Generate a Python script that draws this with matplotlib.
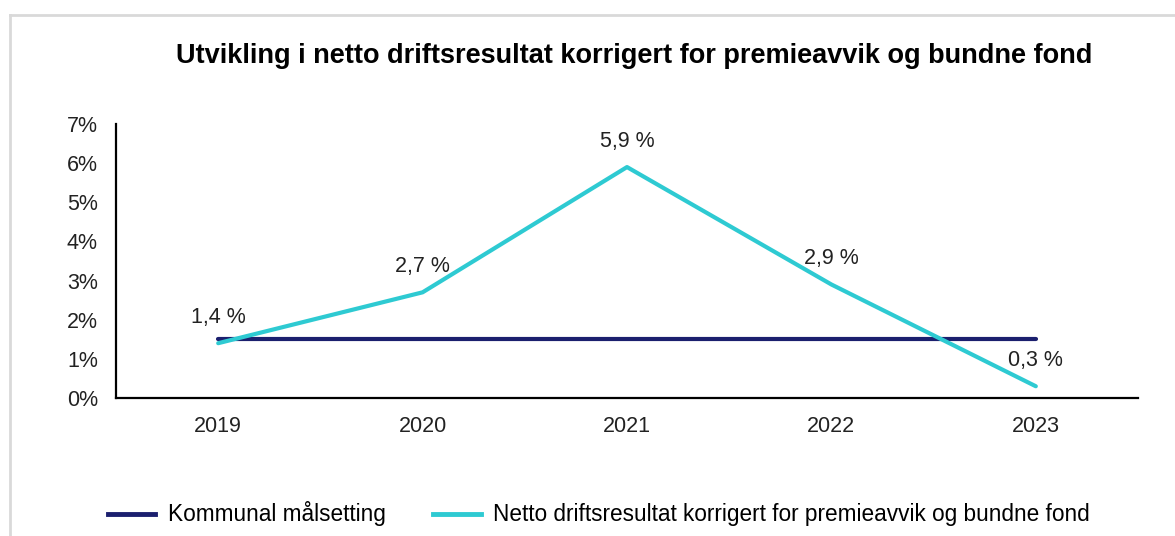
import matplotlib
matplotlib.use("Agg")
from matplotlib import pyplot as plt
from matplotlib.lines import Line2D

plt.rcParams['font.family'] = ['Liberation Sans', 'DejaVu Sans']

# data
years = ["2019", "2020", "2021", "2022", "2023"]
netto = [1.4, 2.7, 5.9, 2.9, 0.3]
maal = [1.5, 1.5, 1.5, 1.5, 1.5]
labels = ["1,4 %", "2,7 %", "5,9 %", "2,9 %", "0,3 %"]
yticks = [0, 1, 2, 3, 4, 5, 6, 7]

navy = "#1B1F6E"
teal = "#2ECAD2"

fig = plt.figure(figsize=(11.75, 5.36), dpi=100)
ax = fig.add_axes([116/1175, 1-398/536, (1138-116)/1175, (398-124)/536])

x = list(range(len(years)))
ax.plot(x, maal, color=navy, lw=3, solid_capstyle='round', label="Kommunal målsetting")
ax.plot(x, netto, color=teal, lw=3, solid_capstyle='round',
        label="Netto driftsresultat korrigert for premieavvik og bundne fond")

for xi, v, t in zip(x, netto, labels):
    ax.annotate(t, (xi, v), xytext=(0, 11), textcoords='offset points',
                ha='center', va='bottom', fontsize=15.5, color='#222222')

ax.set_xlim(-0.5, len(years) - 0.5)
ax.set_ylim(0, 7)
ax.set_xticks(x)
ax.set_xticklabels(years)
ax.set_yticks(yticks)
ax.set_yticklabels([f"{v}%" for v in yticks])
ax.tick_params(length=0, labelsize=15.5, colors='#222222')
ax.tick_params(axis='x', pad=13)
ax.tick_params(axis='y', pad=13)
for s in ['top', 'right']:
    ax.spines[s].set_visible(False)
for s in ['left', 'bottom']:
    ax.spines[s].set_linewidth(1.6)
    ax.spines[s].set_color('black')

fig.text(634/1175, 1-56/536, "Utvikling i netto driftsresultat korrigert for premieavvik og bundne fond",
         ha='center', va='center', fontsize=19.5, fontweight='bold')

handles = [Line2D([], [], color=navy, lw=3.5), Line2D([], [], color=teal, lw=3.5)]
fig.legend(handles, ["Kommunal målsetting",
                     "Netto driftsresultat korrigert for premieavvik og bundne fond"],
           loc='center', bbox_to_anchor=(599/1175, 1-514/536), ncol=2, frameon=False,
           fontsize=16.3, handlelength=2.1, handletextpad=0.55, columnspacing=2.1)

# light grey frame around chart area
fig.add_artist(Line2D([10/1175, 1], [1-15/536, 1-15/536], color='#D9D9D9', lw=2))
fig.add_artist(Line2D([10/1175, 10/1175], [0, 1-15/536], color='#D9D9D9', lw=2))

fig.savefig("out.png", dpi=100)
